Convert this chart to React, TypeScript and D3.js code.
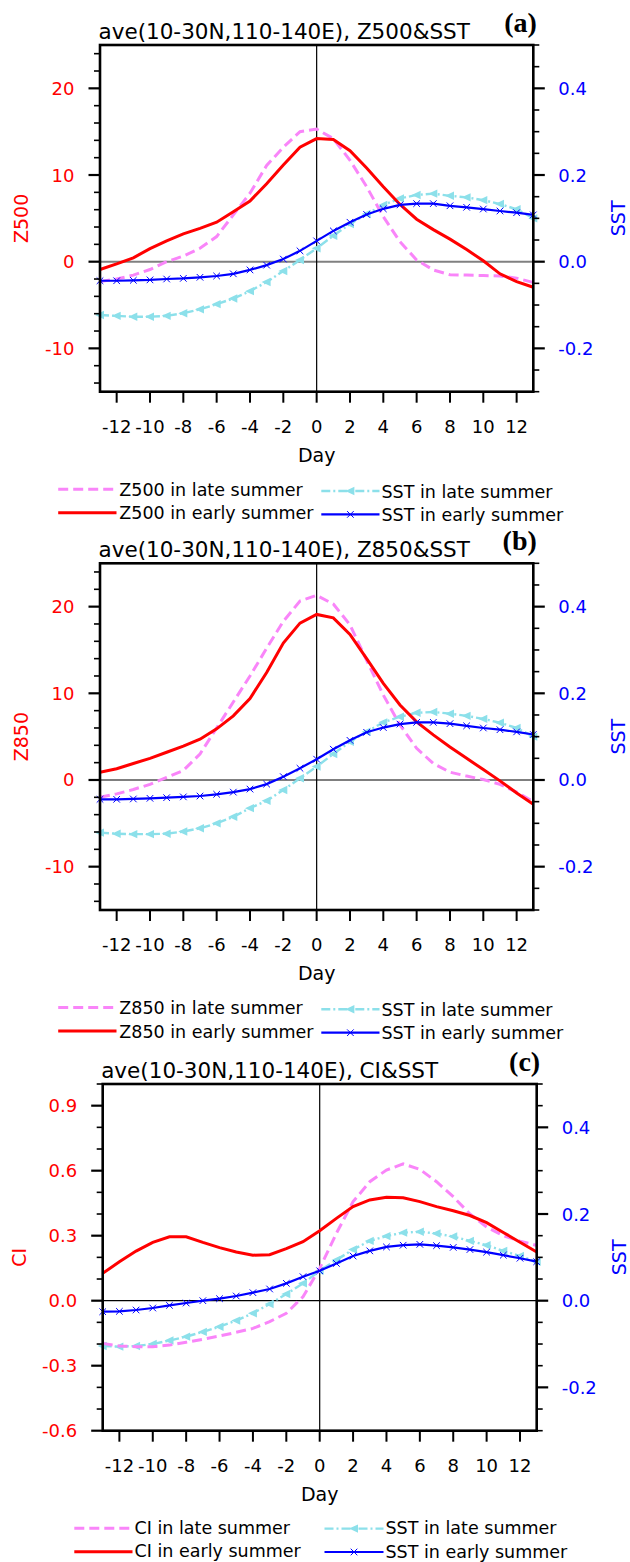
import React from 'react';
import * as d3 from 'd3';

const days = [-13, -12, -11, -10, -9, -8, -7, -6, -5, -4, -3, -2, -1, 0, 1, 2, 3, 4, 5, 6, 7, 8, 9, 10, 11, 12, 13];
const xTickValues = [-12, -10, -8, -6, -4, -2, 0, 2, 4, 6, 8, 10, 12];

// Panel (a)
const z500Late = [-2.3, -2.0, -1.55, -0.9, 0.0, 0.65, 1.55, 2.9, 5.4, 7.9, 11.1, 13.2, 15.0, 15.3, 14.2, 11.7, 8.65, 5.2, 2.3, 0.2, -0.95, -1.5, -1.55, -1.6, -1.65, -1.9, -2.4];
const z500Early = [-0.9, -0.25, 0.45, 1.5, 2.4, 3.2, 3.85, 4.55, 5.75, 7.0, 9.0, 11.15, 13.2, 14.2, 14.1, 12.8, 10.8, 8.65, 6.6, 4.9, 3.7, 2.6, 1.4, 0.1, -1.4, -2.3, -2.95];
const sstLateA = [-0.123, -0.125, -0.127, -0.127, -0.125, -0.119, -0.11, -0.098, -0.085, -0.068, -0.047, -0.0215, 0.004, 0.031, 0.06, 0.087, 0.11, 0.131, 0.146, 0.154, 0.157, 0.152, 0.1485, 0.142, 0.133, 0.121, 0.1];
const sstEarlyA = [-0.044, -0.044, -0.043, -0.042, -0.04, -0.0385, -0.036, -0.033, -0.028, -0.019, -0.008, 0.006, 0.025, 0.048, 0.071, 0.091, 0.109, 0.122, 0.131, 0.134, 0.134, 0.129, 0.1255, 0.1215, 0.117, 0.113, 0.108];

// Panel (b)
const z850Late = [-2.0, -1.6, -1.1, -0.5, 0.3, 1.1, 3.0, 6.0, 9.0, 12.0, 15.2, 18.3, 20.65, 21.3, 20.3, 17.9, 13.8, 9.8, 6.35, 3.65, 1.9, 0.9, 0.45, 0.05, -0.5, -1.4, -2.5];
const z850Early = [0.9, 1.3, 1.9, 2.5, 3.2, 3.9, 4.7, 5.9, 7.4, 9.4, 12.4, 15.8, 18.1, 19.1, 18.7, 16.8, 14.0, 11.15, 8.65, 6.7, 5.2, 3.8, 2.5, 1.2, -0.1, -1.5, -2.8];
const sstLateB = [-0.1215, -0.124, -0.125, -0.125, -0.124, -0.119, -0.1115, -0.1, -0.085, -0.065, -0.048, -0.023, 0.004, 0.031, 0.06, 0.088, 0.1115, 0.133, 0.146, 0.155, 0.157, 0.153, 0.148, 0.141, 0.132, 0.12, 0.1];
const sstEarlyB = [-0.0446, -0.0446, -0.0438, -0.0423, -0.0408, -0.039, -0.037, -0.033, -0.028, -0.021, -0.0095, 0.0077, 0.027, 0.048, 0.071, 0.0915, 0.11, 0.121, 0.129, 0.133, 0.133, 0.13, 0.125, 0.12, 0.116, 0.111, 0.105];

// Panel (c)
const ciLate = [-0.197, -0.209, -0.212, -0.212, -0.205, -0.192, -0.178, -0.163, -0.146, -0.128, -0.097, -0.058, 0.018, 0.149, 0.311, 0.457, 0.549, 0.603, 0.631, 0.606, 0.549, 0.48, 0.4, 0.34, 0.3, 0.275, 0.255];
const ciEarly = [0.126, 0.18, 0.229, 0.269, 0.295, 0.295, 0.269, 0.245, 0.225, 0.21, 0.212, 0.24, 0.272, 0.323, 0.38, 0.434, 0.465, 0.477, 0.475, 0.457, 0.434, 0.415, 0.393, 0.36, 0.315, 0.27, 0.225];
const sstLateC = [-0.1046, -0.106, -0.1046, -0.1, -0.092, -0.083, -0.072, -0.06, -0.046, -0.029, -0.0077, 0.0154, 0.04, 0.069, 0.094, 0.118, 0.138, 0.149, 0.157, 0.159, 0.155, 0.148, 0.138, 0.128, 0.115, 0.103, 0.09];
const sstEarlyC = [-0.0254, -0.0246, -0.0215, -0.0169, -0.0108, -0.0054, 0.0, 0.0046, 0.0108, 0.0185, 0.027, 0.04, 0.0554, 0.069, 0.086, 0.103, 0.115, 0.124, 0.128, 0.13, 0.127, 0.123, 0.118, 0.112, 0.105, 0.098, 0.09];

// Axis tick values
const zMajor = [-10, 0, 10, 20];
const zMinor = [-14, -12, -8, -6, -4, -2, 2, 4, 6, 8, 12, 14, 16, 18, 22, 24];
const ciMajor = [-0.6, -0.3, 0.0, 0.3, 0.6, 0.9];
const ciMinor = [-0.5, -0.4, -0.2, -0.1, 0.1, 0.2, 0.4, 0.5, 0.7, 0.8, 1.0];
const sstMajor = [-0.2, 0.0, 0.2, 0.4];
const sstMinor = [-0.3, -0.25, -0.15, -0.1, -0.05, 0.05, 0.1, 0.15, 0.25, 0.3, 0.35, 0.45, 0.5];

const PINK = '#F985F9';
const RED = '#FF0000';
const CYAN = '#8CE0EA';
const BLUE = '#0000FF';
const FONT = '"DejaVu Sans", sans-serif';

type PanelCfg = {
  top: number; left: number; width: number; height: number;
  title: string; tag: string; varName: string;
  yDomain: [number, number]; yMajor: number[]; yMinor: number[]; yFmt: (v: number) => string;
  late: number[]; early: number[]; sstLate: number[]; sstEarly: number[];
  zeroColor: string; zeroWidth: number;
  leftTitleX: number; rightTitleX: number;
  legL: [number, number, number]; legR: [number, number, number]; legDy: number; legTextDy: number;
};

const fmtZ = (v: number) => d3.format('d')(v).replace('−', '-');
const fmt1 = (v: number) => d3.format('.1f')(v).replace('−', '-');

const panels: PanelCfg[] = [
  {
    top: 45, left: 100, width: 433.3, height: 346.7,
    title: 'ave(10-30N,110-140E), Z500&SST', tag: '(a)', varName: 'Z500',
    yDomain: [-15, 25], yMajor: zMajor, yMinor: zMinor, yFmt: fmtZ,
    late: z500Late, early: z500Early, sstLate: sstLateA, sstEarly: sstEarlyA,
    zeroColor: '#808080', zeroWidth: 2,
    leftTitleX: 28, rightTitleX: 625,
    legL: [58.2, 116.5, 119.3], legR: [321.3, 379.5, 381.5], legDy: 1.7, legTextDy: 6.5,
  },
  {
    top: 563.3, left: 100, width: 433.3, height: 346.7,
    title: 'ave(10-30N,110-140E), Z850&SST', tag: '(b)', varName: 'Z850',
    yDomain: [-15, 25], yMajor: zMajor, yMinor: zMinor, yFmt: fmtZ,
    late: z850Late, early: z850Early, sstLate: sstLateB, sstEarly: sstEarlyB,
    zeroColor: '#000000', zeroWidth: 1.2,
    leftTitleX: 28, rightTitleX: 625,
    legL: [58.2, 116.5, 119.3], legR: [321.3, 379.5, 381.5], legDy: 1.7, legTextDy: 6.5,
  },
  {
    top: 1084, left: 102.7, width: 434, height: 346.7,
    title: 'ave(10-30N,110-140E), CI&SST', tag: '(c)', varName: 'CI',
    yDomain: [-0.6, 1.0], yMajor: ciMajor, yMinor: ciMinor, yFmt: fmt1,
    late: ciLate, early: ciEarly, sstLate: sstLateC, sstEarly: sstEarlyC,
    zeroColor: '#000000', zeroWidth: 1.2,
    leftTitleX: 26, rightTitleX: 626,
    legL: [74.3, 132.5, 134.5], legR: [324.5, 383.5, 385.5], legDy: 0.3, legTextDy: 5.6,
  },
];

const cross = (x: number, y: number, r = 3.3) =>
  `M${x - r},${y - r}L${x + r},${y + r}M${x - r},${y + r}L${x + r},${y - r}`;
const triLeft = (x: number, y: number) =>
  `M${x - 5},${y}L${x + 4},${y - 4.2}L${x + 4},${y + 4.2}Z`;

function Panel({ c }: { c: PanelCfg }) {
  const x = d3.scaleLinear().domain([-13, 13]).range([c.left, c.left + c.width]);
  const y = d3.scaleLinear().domain(c.yDomain).range([c.top + c.height, c.top]);
  const ys = d3.scaleLinear().domain([-0.3, 0.5]).range([c.top + c.height, c.top]);
  const right = c.left + c.width;
  const bottom = c.top + c.height;
  const cy = c.top + c.height / 2;

  const lineL = (arr: number[]) =>
    d3.line<number>().x((_, i) => x(days[i])).y((v) => y(v))(arr) || '';
  const lineS = (arr: number[]) =>
    d3.line<number>().x((_, i) => x(days[i])).y((v) => ys(v))(arr) || '';

  const legY1 = bottom + 97.6;
  const legY2 = bottom + 121;
  const [l0, l1, lt] = c.legL;
  const [r0, r1, rt] = c.legR;
  const td = c.legTextDy;

  return (
    <g>
      {/* zero line and day-0 line */}
      <line x1={c.left} x2={right} y1={y(0)} y2={y(0)} stroke={c.zeroColor} strokeWidth={c.zeroWidth} />
      <line x1={x(0)} x2={x(0)} y1={c.top} y2={bottom} stroke="#000" strokeWidth={1.2} />

      {/* series */}
      <path d={lineS(c.sstLate)} fill="none" stroke={CYAN} strokeWidth={2.4} strokeDasharray="9 3 2 3" />
      {c.sstLate.map((v, i) => (
        <path key={'t' + i} d={triLeft(x(days[i]), ys(v))} fill={CYAN} />
      ))}
      <path d={lineL(c.late)} fill="none" stroke={PINK} strokeWidth={3} strokeDasharray="10 5" />
      <path d={lineL(c.early)} fill="none" stroke={RED} strokeWidth={3} />
      <path d={lineS(c.sstEarly)} fill="none" stroke={BLUE} strokeWidth={2.2} />
      {c.sstEarly.map((v, i) => (
        <path key={'x' + i} d={cross(x(days[i]), ys(v))} fill="none" stroke={BLUE} strokeWidth={1} />
      ))}

      {/* frame */}
      <rect x={c.left} y={c.top} width={c.width} height={c.height} fill="none" stroke="#000" strokeWidth={2.6} />

      {/* bottom ticks */}
      {xTickValues.map((d) => (
        <g key={'xt' + d}>
          <line x1={x(d)} x2={x(d)} y1={bottom} y2={bottom + 11} stroke="#000" strokeWidth={2} />
          <text x={x(d)} y={bottom + 41} textAnchor="middle" fontFamily={FONT} fontSize={18} fill="#000">
            {fmtZ(d)}
          </text>
        </g>
      ))}
      <text x={c.left + c.width / 2} y={bottom + 70} textAnchor="middle" fontFamily={FONT} fontSize={19} fill="#000">Day</text>

      {/* left axis */}
      {c.yMinor.map((v) => (
        <line key={'lm' + v} x1={c.left - 6} x2={c.left} y1={y(v)} y2={y(v)} stroke="#000" strokeWidth={1.6} />
      ))}
      {c.yMajor.map((v) => (
        <g key={'lM' + v}>
          <line x1={c.left - 11.5} x2={c.left} y1={y(v)} y2={y(v)} stroke="#000" strokeWidth={2.2} />
          <text x={c.left - 25.5} y={y(v) + 6.5} textAnchor="end" fontFamily={FONT} fontSize={18} fill={RED}>
            {c.yFmt(v)}
          </text>
        </g>
      ))}

      {/* right axis */}
      {sstMinor.map((v) => (
        <line key={'rm' + v} x1={right} x2={right + 6} y1={ys(v)} y2={ys(v)} stroke="#000" strokeWidth={1.6} />
      ))}
      {sstMajor.map((v) => (
        <g key={'rM' + v}>
          <line x1={right} x2={right + 11.5} y1={ys(v)} y2={ys(v)} stroke="#000" strokeWidth={2.2} />
          <text x={right + 25} y={ys(v) + 6.5} textAnchor="start" fontFamily={FONT} fontSize={18} fill={BLUE}>
            {fmt1(v)}
          </text>
        </g>
      ))}

      {/* axis titles */}
      <text transform={`translate(${c.leftTitleX},${cy}) rotate(-90)`} textAnchor="middle" fontFamily={FONT} fontSize={19} fill={RED}>
        {c.varName}
      </text>
      <text transform={`translate(${c.rightTitleX},${cy}) rotate(-90)`} textAnchor="middle" fontFamily={FONT} fontSize={19} fill={BLUE}>
        SST
      </text>

      {/* title and tag */}
      <text x={c.left - 1.5} y={c.top - 6.5} fontFamily={FONT} fontSize={21.5} fill="#000">{c.title}</text>
      <text x={right + 3.5} y={c.top - 13.5} textAnchor="end" fontFamily='"Liberation Serif", "Times New Roman", serif' fontWeight="bold" fontSize={28} fill="#000">
        {c.tag}
      </text>

      {/* legend */}
      <line x1={l0} x2={l1} y1={legY1} y2={legY1} stroke={PINK} strokeWidth={3} strokeDasharray="10 5" />
      <text x={lt} y={legY1 + td} fontFamily={FONT} fontSize={17.5} fill="#000">{`${c.varName} in late summer`}</text>
      <line x1={l0} x2={l1} y1={legY2} y2={legY2} stroke={RED} strokeWidth={3} />
      <text x={lt} y={legY2 + td} fontFamily={FONT} fontSize={17.5} fill="#000">{`${c.varName} in early summer`}</text>

      <line x1={r0} x2={r1} y1={legY1 + c.legDy} y2={legY1 + c.legDy} stroke={CYAN} strokeWidth={2.4} strokeDasharray="9 3 2 3" />
      <path d={triLeft((r0 + r1) / 2, legY1 + c.legDy)} fill={CYAN} />
      <text x={rt} y={legY1 + c.legDy + td} fontFamily={FONT} fontSize={17.5} fill="#000">SST in late summer</text>
      <line x1={r0} x2={r1} y1={legY2 + c.legDy} y2={legY2 + c.legDy} stroke={BLUE} strokeWidth={2.2} />
      <path d={cross((r0 + r1) / 2, legY2 + c.legDy)} fill="none" stroke={BLUE} strokeWidth={1} />
      <text x={rt} y={legY2 + c.legDy + td} fontFamily={FONT} fontSize={17.5} fill="#000">SST in early summer</text>
    </g>
  );
}

export default function App() {
  return (
    <svg width={630} height={1562} viewBox="0 0 630 1562" style={{ position: 'absolute', left: 0, top: 0, background: '#fff' }}>
      <rect x={0} y={0} width={630} height={1562} fill="#fff" />
      {panels.map((p) => (
        <Panel key={p.tag} c={p} />
      ))}
    </svg>
  );
}
